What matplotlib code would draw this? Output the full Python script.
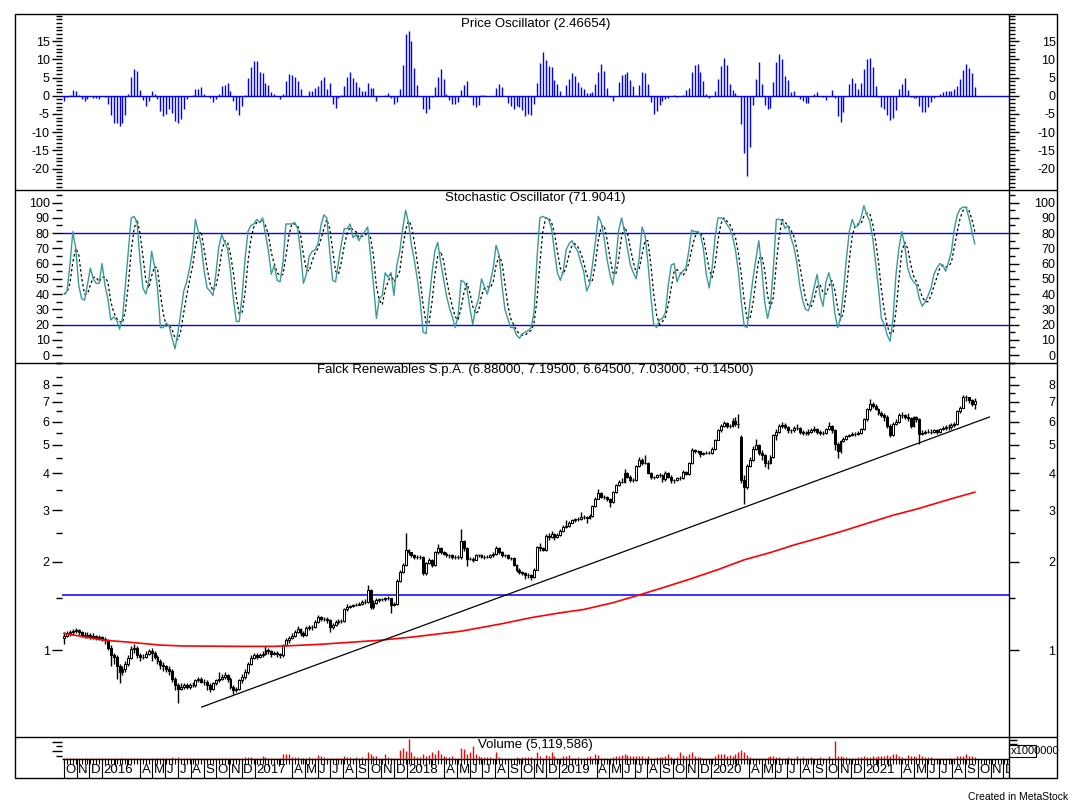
import numpy as np
import pandas as pd
import matplotlib
matplotlib.use("Agg")
import matplotlib.pyplot as plt
import matplotlib.dates as mdates
from matplotlib.lines import Line2D
from matplotlib.patches import Rectangle
from matplotlib.ticker import NullFormatter
from matplotlib.transforms import offset_copy

plt.rcParams['font.family'] = ['Liberation Sans', 'DejaVu Sans']

# figure size in pixels (dpi 100)
W, H = 1073, 805

# weekly bars, first bar date and visible date range
first_week = '2015-10-02'
x_start, x_end = '2015-09-27', '2021-12-15'

# Falck Renewables weekly OHLC
open_ = [1.10,1.12,1.14,1.15,1.16,1.17,1.15,1.13,1.12,1.13,1.11,1.12,1.10,1.11,1.09,
         1.08,1.02,0.96,0.95,0.88,0.84,0.86,0.90,0.94,1.01,1.02,0.96,0.95,0.95,0.97,
         0.99,0.98,0.95,0.92,0.89,0.88,0.86,0.85,0.80,0.76,0.74,0.75,0.76,0.75,0.76,
         0.76,0.79,0.80,0.78,0.78,0.76,0.74,0.77,0.79,0.80,0.81,0.82,0.80,0.75,0.73,
         0.74,0.79,0.81,0.84,0.90,0.94,0.96,0.95,0.96,0.97,1.00,0.99,0.97,0.98,0.97,
         0.96,1.04,1.08,1.10,1.12,1.15,1.18,1.14,1.13,1.19,1.20,1.20,1.25,1.30,1.28,
         1.28,1.27,1.20,1.22,1.25,1.26,1.26,1.38,1.40,1.41,1.42,1.43,1.44,1.46,1.46,
         1.60,1.40,1.45,1.48,1.49,1.49,1.50,1.50,1.42,1.44,1.72,1.85,1.95,2.19,2.15,
         2.10,2.08,2.08,2.08,1.83,1.98,2.03,1.95,2.15,2.22,2.15,2.13,2.10,2.10,2.08,
         2.07,2.07,2.35,2.22,2.05,2.05,2.03,2.10,2.10,2.08,2.08,2.08,2.10,2.12,2.23,
         2.16,2.10,2.10,2.06,2.06,1.95,1.88,1.84,1.83,1.80,1.80,1.77,1.88,2.25,2.22,
         2.20,2.45,2.42,2.48,2.42,2.47,2.55,2.62,2.65,2.72,2.77,2.79,2.79,2.85,2.85,
         2.82,2.87,3.10,3.28,3.42,3.33,3.33,3.27,3.20,3.45,3.65,3.75,3.75,4.00,3.90,
         3.80,3.80,4.25,4.45,4.35,4.35,4.00,3.88,3.88,3.95,3.95,3.82,4.02,3.90,3.80,
         3.80,3.85,3.85,4.05,3.98,4.35,4.80,4.75,4.75,4.65,4.68,4.70,4.70,4.85,5.20,
         5.60,5.80,5.95,5.80,5.80,6.05,5.90,5.30,3.80,3.60,4.25,4.45,4.85,5.00,4.70,
         4.60,4.35,4.35,4.55,5.40,5.55,5.80,5.85,5.75,5.60,5.60,5.70,5.70,5.55,5.50,
         5.50,5.55,5.60,5.65,5.55,5.50,5.50,5.65,5.80,5.60,5.05,4.75,5.15,5.25,5.35,
         5.40,5.45,5.45,5.50,5.65,6.10,6.60,6.90,6.80,6.60,6.40,6.30,6.20,5.80,5.40,
         5.90,6.00,6.30,6.30,6.20,6.15,5.80,6.20,6.10,5.45,5.50,5.55,5.55,5.55,5.60,
         5.55,5.65,5.70,5.75,5.75,5.85,5.90,6.50,6.70,7.30,7.25,7.10,6.88]
high = [1.15,1.16,1.17,1.18,1.19,1.18,1.16,1.15,1.15,1.14,1.14,1.13,1.13,1.12,1.11,
        1.09,1.04,0.98,0.96,0.90,0.88,0.92,0.96,1.03,1.05,1.03,0.98,0.97,0.99,1.01,
        1.02,0.99,0.96,0.93,0.91,0.89,0.88,0.86,0.81,0.77,0.77,0.77,0.77,0.77,0.78,
        0.80,0.81,0.81,0.80,0.79,0.77,0.78,0.80,0.84,0.83,0.84,0.83,0.81,0.76,0.75,
        0.80,0.83,0.86,0.91,0.96,0.98,0.98,0.98,0.99,1.03,1.02,1.00,0.99,0.99,0.98,
        1.05,1.10,1.12,1.14,1.17,1.21,1.19,1.16,1.21,1.22,1.22,1.27,1.32,1.31,1.30,
        1.30,1.28,1.24,1.27,1.28,1.28,1.39,1.44,1.43,1.44,1.45,1.46,1.48,1.49,1.67,
        1.62,1.48,1.50,1.51,1.51,1.52,1.53,1.51,1.46,1.74,1.88,1.98,2.50,2.21,2.16,
        2.13,2.11,2.11,2.09,2.00,2.06,2.05,2.17,2.30,2.24,2.17,2.15,2.13,2.12,2.10,
        2.10,2.58,2.38,2.24,2.08,2.07,2.12,2.13,2.12,2.11,2.10,2.12,2.15,2.27,2.25,
        2.18,2.13,2.12,2.08,2.07,1.97,1.90,1.86,1.85,1.83,1.82,1.90,2.27,2.32,2.25,
        2.48,2.50,2.55,2.50,2.50,2.58,2.67,2.78,2.75,2.80,2.82,2.83,2.95,2.88,2.87,
        2.90,3.13,3.32,3.55,3.45,3.37,3.35,3.29,3.48,3.68,3.80,3.85,4.15,4.05,3.94,
        3.85,4.28,4.55,4.50,4.60,4.38,4.05,3.93,3.98,4.00,3.98,4.06,4.05,3.94,3.84,
        3.90,3.92,4.10,4.08,4.38,4.88,4.85,4.82,4.78,4.72,4.75,4.78,4.90,5.25,5.65,
        5.88,6.05,6.00,5.90,6.15,6.20,6.35,5.40,3.95,4.30,4.55,4.95,5.25,5.05,4.80,
        4.65,4.45,4.62,5.45,5.65,5.88,6.00,5.92,5.80,5.68,5.78,5.90,5.75,5.60,5.58,
        5.65,5.72,5.78,5.70,5.62,5.58,5.72,6.00,5.85,5.65,5.10,5.20,5.32,5.40,5.45,
        5.52,5.55,5.58,5.72,6.15,6.70,7.15,7.00,6.90,6.65,6.50,6.40,6.30,5.90,6.00,
        6.10,6.40,6.45,6.35,6.40,6.20,6.25,6.25,6.15,5.60,5.62,5.65,5.65,5.68,5.65,
        5.72,5.80,5.85,5.88,5.92,6.00,6.55,6.80,7.40,7.40,7.30,7.15,7.195]
low = [1.05,1.11,1.12,1.13,1.14,1.13,1.11,1.10,1.10,1.09,1.09,1.08,1.08,1.07,1.05,
       1.00,0.88,0.90,0.80,0.77,0.82,0.84,0.88,0.93,0.98,0.94,0.92,0.93,0.94,0.96,
       0.92,0.93,0.90,0.86,0.85,0.84,0.82,0.78,0.73,0.66,0.73,0.74,0.74,0.74,0.75,
       0.75,0.78,0.77,0.76,0.73,0.72,0.73,0.76,0.78,0.79,0.80,0.78,0.74,0.71,0.72,
       0.73,0.77,0.80,0.83,0.89,0.93,0.93,0.94,0.95,0.96,0.97,0.95,0.96,0.95,0.94,
       0.95,1.03,1.06,1.09,1.11,1.14,1.12,1.11,1.12,1.17,1.17,1.19,1.24,1.26,1.26,
       1.24,1.15,1.18,1.21,1.23,1.24,1.25,1.36,1.39,1.40,1.41,1.42,1.43,1.44,1.45,
       1.38,1.38,1.44,1.46,1.47,1.47,1.48,1.34,1.41,1.43,1.70,1.83,1.93,2.10,2.07,
       2.05,2.05,2.04,1.80,1.80,1.96,1.92,1.93,2.13,2.12,2.10,2.07,2.06,2.05,2.04,
       2.04,2.05,2.18,1.94,2.02,2.00,2.02,2.07,2.06,2.05,2.06,2.06,2.08,2.10,2.13,
       2.08,2.07,2.04,2.03,1.93,1.85,1.81,1.80,1.74,1.76,1.73,1.76,1.87,2.18,2.17,
       2.18,2.38,2.40,2.38,2.40,2.45,2.53,2.60,2.63,2.70,2.74,2.76,2.77,2.80,2.72,
       2.80,2.85,3.07,3.26,3.30,3.28,3.22,3.08,3.18,3.42,3.62,3.70,3.72,3.85,3.74,
       3.75,3.78,4.20,4.28,4.30,3.97,3.84,3.84,3.85,3.90,3.75,3.78,3.86,3.72,3.70,
       3.76,3.80,3.82,3.94,3.95,4.30,4.70,4.68,4.55,4.60,4.64,4.64,4.66,4.82,5.18,
       5.55,5.75,5.70,5.70,5.75,5.80,5.70,3.70,3.15,3.55,4.20,4.40,4.80,4.60,4.45,
       4.20,4.15,4.30,4.50,5.20,5.50,5.70,5.65,5.50,5.50,5.55,5.60,5.45,5.42,5.40,
       5.42,5.50,5.55,5.45,5.40,5.42,5.45,5.60,5.50,4.80,4.50,4.70,5.10,5.20,5.30,
       5.35,5.38,5.40,5.45,5.60,6.05,6.50,6.70,6.55,6.30,6.20,6.05,5.70,5.30,5.35,
       5.85,5.95,6.15,6.10,6.05,5.70,5.75,6.00,5.05,5.40,5.45,5.48,5.45,5.50,5.45,
       5.50,5.60,5.62,5.62,5.68,5.75,5.85,6.40,6.65,7.05,6.95,6.80,6.645]
close = [1.12,1.14,1.15,1.16,1.17,1.15,1.13,1.12,1.13,1.11,1.12,1.10,1.11,1.09,1.08,
         1.02,0.96,0.95,0.88,0.84,0.86,0.90,0.94,1.01,1.02,0.96,0.95,0.95,0.97,0.99,
         0.98,0.95,0.92,0.89,0.88,0.86,0.85,0.80,0.76,0.74,0.75,0.76,0.75,0.76,0.76,
         0.79,0.80,0.78,0.78,0.76,0.74,0.77,0.79,0.80,0.81,0.82,0.80,0.75,0.73,0.74,
         0.79,0.81,0.84,0.90,0.94,0.96,0.95,0.96,0.97,1.00,0.99,0.97,0.98,0.97,0.96,
         1.04,1.08,1.10,1.12,1.15,1.18,1.14,1.13,1.19,1.20,1.20,1.25,1.30,1.28,1.28,
         1.27,1.20,1.22,1.25,1.26,1.26,1.38,1.40,1.41,1.42,1.43,1.44,1.46,1.46,1.60,
         1.40,1.45,1.48,1.49,1.49,1.50,1.50,1.42,1.44,1.72,1.85,1.95,2.19,2.15,2.10,
         2.08,2.08,2.08,1.83,1.98,2.03,1.95,2.15,2.22,2.15,2.13,2.10,2.10,2.08,2.07,
         2.07,2.35,2.22,2.05,2.05,2.03,2.10,2.10,2.08,2.08,2.08,2.10,2.12,2.23,2.16,
         2.10,2.10,2.06,2.06,1.95,1.88,1.84,1.83,1.80,1.80,1.77,1.88,2.25,2.22,2.20,
         2.45,2.42,2.48,2.42,2.47,2.55,2.62,2.65,2.72,2.77,2.79,2.79,2.85,2.85,2.82,
         2.87,3.10,3.28,3.42,3.33,3.33,3.27,3.20,3.45,3.65,3.75,3.75,4.00,3.90,3.80,
         3.80,4.25,4.45,4.35,4.35,4.00,3.88,3.88,3.95,3.95,3.82,4.02,3.90,3.80,3.80,
         3.85,3.85,4.05,3.98,4.35,4.80,4.75,4.75,4.65,4.68,4.70,4.70,4.85,5.20,5.60,
         5.80,5.95,5.80,5.80,6.05,5.90,5.90,3.80,3.60,4.25,4.45,4.85,5.00,4.70,4.60,
         4.35,4.35,4.55,5.40,5.55,5.80,5.85,5.75,5.60,5.60,5.70,5.70,5.55,5.50,5.50,
         5.55,5.60,5.65,5.55,5.50,5.50,5.65,5.80,5.60,5.05,4.75,5.15,5.25,5.35,5.40,
         5.45,5.45,5.50,5.65,6.10,6.60,6.90,6.80,6.60,6.40,6.30,6.20,5.80,5.40,5.90,
         6.00,6.30,6.30,6.20,6.15,5.80,6.20,6.10,5.45,5.50,5.55,5.55,5.55,5.60,5.55,
         5.65,5.70,5.75,5.75,5.85,5.90,6.50,6.70,7.30,7.25,7.10,6.88,7.03]

# price oscillator histogram
price_osc = [-1.5,-0.3,0.3,1.6,1.3,0.3,-0.8,-1.5,-0.8,0.0,
             -0.5,-0.5,-0.8,0.0,-0.3,-2.2,-5.3,-7.5,-7.5,-8.2,
             -7.6,-5.3,0.5,5.1,7.3,6.7,1.5,-1.2,-2.8,-1.5,
             1.3,0.4,-0.9,-4.3,-5.5,-5.0,-3.6,-4.7,-7.0,-7.4,
             -6.3,-3.6,-0.8,0.0,0.3,1.8,2.0,2.3,0.6,0.0,
             -0.7,-1.7,-0.8,0.6,2.6,2.9,3.5,1.3,-1.5,-4.0,
             -5.3,-2.8,0.3,5.0,7.9,9.6,9.6,6.5,6.2,3.5,
             2.9,1.0,0.6,0.0,-0.9,0.6,4.0,6.1,5.8,5.3,
             4.0,1.8,0.0,0.0,1.3,1.3,2.1,2.6,4.3,5.1,
             2.0,3.5,-2.3,-3.4,-0.6,0.3,2.8,5.1,6.5,4.9,
             3.7,2.3,1.4,1.4,3.5,2.1,2.1,-1.4,0.0,0.0,
             0.3,0.8,-0.7,-2.3,-1.6,2.0,8.5,17.1,17.9,15.1,
             7.6,3.1,0.0,-3.6,-4.7,-3.6,-0.3,2.3,5.1,7.3,
             4.5,0.6,-1.2,-2.3,-2.3,-1.6,1.5,3.1,4.0,-0.3,
             -2.4,-3.0,-2.6,0.3,0.3,0.0,0.0,0.0,2.1,3.2,
             2.3,0.0,-1.9,-2.7,-3.6,-2.7,-3.2,-3.9,-5.6,-5.1,
             -5.3,-2.2,3.4,
             9.0,12.0,9.8,8.3,7.8,4.3,3.2,1.3,0.0,2.9,
             4.6,6.2,5.5,3.8,2.4,1.8,0.9,0.7,1.0,3.3,
             6.6,8.8,6.8,2.1,-0.3,-1.5,0.0,3.7,5.6,6.1,
             6.5,4.3,2.8,0.3,2.9,6.5,6.3,3.2,-1.8,-5.0,
             -4.3,-2.5,-1.3,-1.0,-0.5,0.0,0.3,-0.2,0.0,0.3,
             1.6,2.1,6.6,8.5,8.8,6.5,4.1,0.5,-0.6,0.0,
             1.2,4.6,8.3,10.4,8.5,3.3,1.6,0.8,0.0,-7.8,
             -15.8,-22.1,-14.0,-2.6,4.6,9.2,3.3,-2.5,-3.6,-3.4,
             3.8,9.3,11.6,10.2,5.5,4.4,1.0,1.3,0.0,-0.8,
             -1.5,-1.9,-1.9,0.0,0.4,1.1,0.0,-0.3,-1.2,0.0,
             1.5,-0.7,-5.5,-7.1,-4.5,0.0,3.2,4.9,3.5,1.9,
             3.5,7.5,10.2,10.4,7.9,2.8,-0.3,-3.2,-3.6,-5.3,
             -6.6,-6.1,-3.9,1.8,3.2,4.8,1.5,-0.3,-0.5,-0.5,
             -2.7,-4.4,-4.4,-3.1,-1.8,-0.5,0.0,0.4,1.0,1.4,
             1.4,1.4,1.8,2.7,4.6,7.2,8.8,7.6,6.3,2.4]

# stochastic %K (solid) and %D (dotted)
stoch_k = [40,42,59,81,70,46,37,36,46,57, 50,47,47,60,46,37,23,25,23,17,
           24,46,68,90,91,87,63,44,40,48, 68,58,44,18,18,21,19,11,4,15,
           28,42,48,57,68,89,81,72,55,44, 42,39,53,71,79,74,70,55,37,22,
           22,39,63,81,85,86,89,87,90,79, 68,53,59,49,48,61,86,86,86,87,
           83,68,47,53,65,68,69,73,85,92, 90,68,49,48,61,73,83,83,86,77,
           79,75,79,81,84,65,46,24,37,39, 54,51,54,39,59,68,83,95,87,72,
           62,50,35,15,14,35,53,68,74,61, 50,39,31,25,18,26,49,48,44,31,
           20,31,37,50,45,40,48,57,72,66, 46,30,24,18,18,13,11,14,15,16,
           18,28,63,90,91,90,89,83,68,54, 49,55,69,73,75,71,68,61,55,42,
           46,59,74,91,87,77,63,53,46,61, 82,90,81,70,59,54,50,63,84,79,
           61,39,20,18,23,24,28,46,59,60, 48,53,55,57,68,82,81,81,79,70,
           53,44,57,77,90,90,89,86,83,78, 69,55,35,19,18,35,50,63,75,57,
           35,24,33,57,89,89,88,83,85,77, 71,61,46,36,30,29,36,45,53,39,
           32,48,54,46,28,18,24,42,63,81, 89,84,85,90,98,92,88,77,61,44,
           24,20,13,9,24,53,70,81,72,57, 51,48,46,37,32,35,39,44,53,57,
           60,59,55,61,68,83,92,96,97,97, 90,81,73]
stoch_d = [40,41,47,61,70,66,51,40,40,46, 51,51,48,51,51,48,35,28,24,22,
           21,29,46,68,83,89,80,65,49,44, 52,58,57,40,27,19,19,17,11,10,
           16,28,39,49,58,71,79,81,69,57, 47,42,45,54,68,75,74,66,54,38,
           27,28,41,61,76,84,87,87,89,85, 79,67,60,54,52,53,65,78,86,86,
           85,79,66,56,55,62,67,70,76,83, 89,83,69,55,53,61,72,80,84,82,
           81,77,78,78,81,77,65,45,36,33, 43,48,53,48,51,55,70,82,88,85,
           74,61,49,33,21,21,34,52,65,68, 62,50,40,32,25,23,31,41,47,41,
           32,27,29,39,44,45,44,48,59,65, 61,47,33,24,20,16,14,13,13,15,
           16,21,36,60,81,90,90,87,80,68, 57,53,58,66,72,73,71,67,61,53,
           48,49,60,75,84,85,76,64,54,53, 63,78,84,80,70,61,54,56,66,75,
           75,60,40,26,20,22,25,33,44,55, 56,54,52,55,60,69,77,81,80,77,
           67,56,51,59,75,86,90,88,86,82, 77,67,53,36,24,24,34,49,63,65,
           56,39,31,38,60,78,89,87,85,82, 78,70,59,48,37,32,32,37,45,46,
           41,40,45,49,43,31,23,28,43,62, 78,85,86,86,91,93,93,86,75,61,
           43,29,19,14,15,29,49,68,74,70, 60,52,48,44,38,35,35,39,45,51,
           57,59,58,58,61,71,81,90,95,97, 95,89,81]

# weekly volume, millions of shares
volume = [1.2,1.2,1.2,1.2,1.2,1.2,2.2,1.2,1.2,1.2, 1.2,1.2,1.2,1.2,1.2,1.2,2.2,1.2,1.2,2.2,
          1.2,1.2,1.2,1.2,1.2,1.2,1.2,1.2,1.2,1.2, 1.2,1.2,2.2,1.2,1.2,1.2,1.2,5.1,1.2,5.1,
          1.2,1.2,1.2,1.2,1.2,1.2,1.2,1.2,1.2,1.2, 1.2,1.2,1.2,1.2,1.2,1.2,1.2,1.2,1.2,1.2,
          1.2,2.2,3.7,3.7,3.7,2.2,1.2,1.2,7.3,4.4, 1.2,1.2,1.2,1.2,1.2,11.0,10.2,10.2,3.7,4.4,
          4.4,1.2,1.2,1.2,3.7,2.9,2.2,8.0,6.6,3.7, 1.2,2.2,2.2,1.2,1.2,1.2,6.6,4.4,3.7,2.9,
          4.4,1.2,4.4,1.2,14.6,11.0,7.3,5.8,1.2,1.2, 11.0,3.7,1.2,1.2,1.2,19.7,23.4,18.3,42.3,16.1,
          7.3,4.4,3.7,11.0,5.8,9.5,14.6,11.0,19.0,10.2, 5.8,4.4,4.4,7.3,1.2,2.9,24.1,22.6,11.0,15.3,
          27.0,11.0,7.3,3.7,3.7,4.4,4.4,1.2,14.6,4.4, 1.2,1.2,1.2,1.2,1.2,3.7,1.2,5.1,3.7,3.7,
          3.7,1.2,14.6,7.3,1.2,8.8,5.8,14.6,5.8,1.2, 1.2,5.8,5.8,8.8,1.2,1.2,4.4,1.2,1.2,4.4,
          5.8,1.2,10.2,8.8,1.2,1.2,1.2,1.2,4.4,5.8, 7.3,8.8,10.2,8.8,7.3,7.3,7.3,7.3,7.3,1.2,
          5.8,1.2,1.2,3.7,3.7,4.4,5.8,10.2,4.4,1.2, 3.7,14.6,8.8,7.3,10.2,16.1,5.8,4.4,4.4,1.2,
          1.2,1.2,1.2,7.3,10.2,10.2,10.2,7.3,8.8,7.3, 11.7,14.6,19.0,14.6,8.8,4.4,2.9,2.9,1.2,1.2,
          1.2,4.4,5.8,5.8,4.4,4.4,2.9,1.2,4.4,1.2, 2.9,5.8,1.2,4.4,1.2,1.2,3.7,1.2,1.2,3.7,
          2.9,1.2,5.8,2.9,38.0,7.3,5.8,4.4,4.4,2.9, 1.2,1.2,3.7,3.7,7.3,4.4,4.4,5.8,4.4,7.3,
          7.3,7.3,8.8,5.8,10.2,10.2,7.3,3.7,1.2,8.8, 5.8,7.3,4.4,10.2,7.3,4.4,4.4,3.7,1.2,1.2,
          2.9,1.2,1.2,1.2,1.2,1.2,7.3,7.3,7.3,10.2, 7.3,5.8,5.1]

# red moving average, read at a few bar positions
ma_weeks = [0, 14, 22, 33, 41, 60, 72, 82, 88, 108, 120, 136, 150, 160, 170, 178,
            188, 196, 205, 214, 224, 233, 242, 250, 258, 266, 275, 284, 292, 300, 306, 312]
ma_values = [1.14, 1.08, 1.065, 1.04, 1.033, 1.03, 1.03, 1.04, 1.047, 1.08, 1.11, 1.16,
             1.23, 1.29, 1.34, 1.375, 1.45, 1.53, 1.63, 1.74, 1.88, 2.03, 2.15, 2.28,
             2.40, 2.53, 2.70, 2.88, 3.02, 3.19, 3.32, 3.45]

# drawn trendline and horizontal level
trend_dates = ['2016-08-27', '2021-10-29']
trend_values = [0.64, 6.22]
support_level = 1.535
stoch_levels = [20, 80]

title_osc = 'Price Oscillator (2.46654)'
title_stoch = 'Stochastic Oscillator (71.9041)'
title_price = 'Falck Renewables S.p.A. (6.88000, 7.19500, 6.64500, 7.03000, +0.14500)'
title_vol = 'Volume (5,119,586)'

BLUE = '#0000FF'
TEAL = '#3A9A9A'

dates = pd.date_range(first_week, periods=len(close), freq='7D')
x = mdates.date2num(dates)
xlo, xhi = mdates.date2num(pd.Timestamp(x_start)), mdates.date2num(pd.Timestamp(x_end))

fig = plt.figure(figsize=(W / 100, H / 100), dpi=100)
fig.patch.set_facecolor('white')


def px_axes(x0, y0, x1, y1):
    return fig.add_axes([x0 / W, 1 - y1 / H, (x1 - x0) / W, (y1 - y0) / H])


def fig_line(x0, y0, x1, y1, lw=1.0):
    fig.add_artist(Line2D([x0 / W, x1 / W], [1 - y0 / H, 1 - y1 / H],
                          color='black', lw=lw, solid_capstyle='butt'))


def style_panel(ax, ylim, majors, labels, minors, log=False):
    axr = ax.twinx()
    for a in (ax, axr):
        if log:
            a.set_yscale('log')
        a.set_ylim(*ylim)
        a.set_xlim(xlo, xhi)
        for s in a.spines.values():
            s.set_visible(False)
        a.set_yticks(majors, labels=labels)
        a.set_yticks(minors, minor=True)
        a.yaxis.set_minor_formatter(NullFormatter())
        a.tick_params(axis='y', which='major', length=7, width=1, labelsize=9)
        a.tick_params(axis='y', which='minor', length=4, width=1)
    ax.set_xticks([])
    ax.tick_params(axis='y', which='both', left=True, right=False,
                   labelleft=True, labelright=False, pad=1.8)
    axr.tick_params(axis='y', which='both', left=False, right=True,
                    labelleft=False, labelright=True, pad=26.5)
    for t in axr.yaxis.get_major_ticks():
        t.label2.set_horizontalalignment('right')
    return axr


# ---- price oscillator panel
ax1 = px_axes(62, 14, 1009, 190)
ax1.vlines(x, 0, price_osc, color=BLUE, lw=1)
ax1.axhline(0, color=BLUE, lw=1)
style_panel(ax1, (-25.9, 22.5), list(range(-20, 20, 5)),
            [str(v) for v in range(-20, 20, 5)], list(range(-25, 23)))

# ---- stochastic panel
ax2 = px_axes(62, 190, 1009, 363)
for lvl in stoch_levels:
    ax2.axhline(lvl, color=BLUE, lw=1)
ax2.plot(x, stoch_d, color='black', lw=0.9, ls=(0, (2, 2)))
ax2.plot(x, stoch_k, color=TEAL, lw=1)
style_panel(ax2, (-5.25, 108.3), list(range(0, 101, 10)),
            [str(v) for v in range(0, 101, 10)], list(range(-5, 106, 5)))

# ---- price panel (log scale)
ax3 = px_axes(62, 363, 1009, 737)
o, h, l, c = map(np.array, (open_, high, low, close))
up = c >= o
body_lo, body_hi = np.minimum(o, c), np.maximum(o, c)
ax3.axhline(support_level, color=BLUE, lw=1.1, zorder=1)
ax3.vlines(x, l, h, color='black', lw=1.0, zorder=2)
ax3.bar(x[up], body_hi[up] - body_lo[up], bottom=body_lo[up], width=4.6,
        facecolor='white', edgecolor='black', lw=0.75, zorder=3)
ax3.bar(x[~up], body_hi[~up] - body_lo[~up], bottom=body_lo[~up], width=4.6,
        facecolor='black', edgecolor='black', lw=0.75, zorder=3)
ax3.plot(x[ma_weeks], ma_values, color='#FF0000', lw=1.2, zorder=4)
ax3.plot(mdates.date2num(pd.to_datetime(trend_dates)), trend_values,
         color='black', lw=0.9, zorder=4)
style_panel(ax3, (0.506, 9.47), [1, 2, 3, 4, 5, 6, 7, 8],
            ['1', '2', '3', '4', '5', '6', '7', '8'],
            [1.5, 2.5, 3.5, 4.5, 5.5, 6.5, 7.5, 8.5, 9.5], log=True)

# ---- volume panel
ax4 = px_axes(62, 737, 1009, 759)
ax4.vlines(x, 0, volume, color='#FF0000', lw=1)
ax4.set_xlim(xlo, xhi)
ax4.set_ylim(0, 47.5)
for s in ax4.spines.values():
    s.set_visible(False)
ax4.set_xticks([])
ax4.set_yticks([17, 37], labels=['', ''])
ax4.set_yticks([7, 29], minor=True)
ax4.tick_params(axis='y', which='major', length=7, width=1)
ax4.tick_params(axis='y', which='minor', length=4, width=1)
ax4r = ax4.twinx()
ax4r.set_ylim(0, 47.5)
for s in ax4r.spines.values():
    s.set_visible(False)
ax4r.set_yticks([32, 41], labels=['', ''])
ax4r.tick_params(axis='y', length=6, width=1)

# ---- date axis strip
ax5 = px_axes(62, 759, 1009, 778)
ax5.set_xlim(xlo, xhi)
ax5.set_ylim(0, 1)
ax5.axis('off')
weeks = pd.date_range(first_week, x_end, freq='7D')
ax5.vlines(mdates.date2num(weeks), 1 - 5 / 19, 1, color='black', lw=0.8)
label_tf = offset_copy(ax5.get_xaxis_transform(), fig=fig, x=1.5, y=0, units='dots')
for m in pd.date_range('2015-10-01', x_end, freq='MS'):
    xm = mdates.date2num(m)
    if m.month in (2, 3):
        ax5.vlines(xm, 1 - 7 / 19, 1, color='black', lw=0.8)
        continue
    ax5.vlines(xm, 0, 1, color='black', lw=0.8)
    label = str(m.year) if m.month == 1 else 'JFMAMJJASOND'[m.month - 1]
    ax5.text(xm, 0.42, label, transform=label_tf, ha='left', va='center',
             fontsize=9.5, clip_on=True)

# ---- frame and dividers
fig.add_artist(Rectangle((15 / W, 1 - 778 / H), (1057 - 15) / W, (778 - 14) / H,
                         fill=False, edgecolor='black', lw=1.0))
for yy in (190, 363, 737):
    fig_line(15, yy, 1057, yy)
fig_line(62, 759, 1009, 759)
fig_line(1009, 14, 1009, 778)

# volume multiplier box
fig.add_artist(Rectangle((1009 / W, 1 - 757 / H), 27 / W, 12 / H,
                         fill=False, edgecolor='black', lw=0.8))
fig.text(1011 / W, 1 - 751 / H, 'x1000000', ha='left', va='center', fontsize=8)

# ---- titles
cx = (62 + 1009) / 2 / W
fig.text(cx, 1 - 24 / H, title_osc, ha='center', va='center', fontsize=9.5)
fig.text(cx, 1 - 198 / H, title_stoch, ha='center', va='center', fontsize=9.5)
fig.text(cx, 1 - 370 / H, title_price, ha='center', va='center', fontsize=9.5)
fig.text(cx, 1 - 745 / H, title_vol, ha='center', va='center', fontsize=9.5)
fig.text(1068 / W, 1 - 797 / H, 'Created in MetaStock', ha='right', va='center', fontsize=7.5)

fig.savefig('out.png', dpi=100, facecolor='white')
